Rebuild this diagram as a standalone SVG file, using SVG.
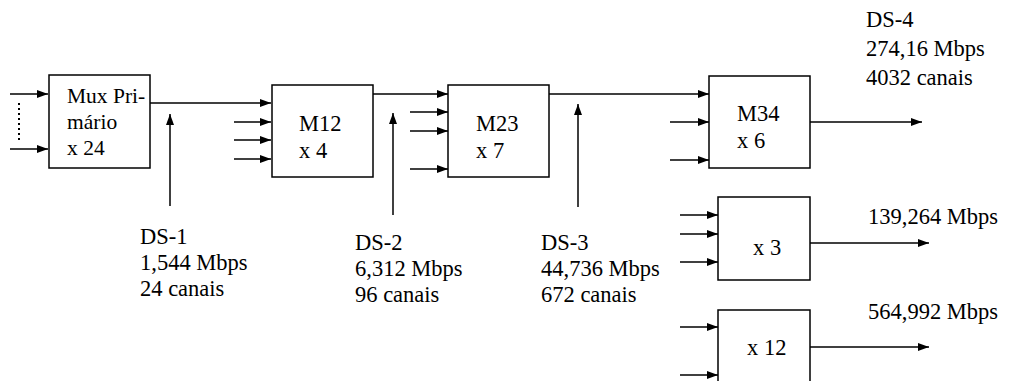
<svg xmlns="http://www.w3.org/2000/svg" width="1016" height="381" viewBox="0 0 1016 381">
<style>
.box{fill:#fff;stroke:#000;stroke-width:1.5}
.ln{stroke:#000;stroke-width:1.5;fill:none}
.dot{stroke:#000;stroke-width:2;stroke-dasharray:2 3;fill:none}
text{font-family:"Liberation Serif","Times New Roman",serif;font-size:22.5px;fill:#000}
</style>
<defs>
<marker id="ah" markerUnits="userSpaceOnUse" markerWidth="12" markerHeight="10" refX="11" refY="4" orient="auto">
<path d="M0,0 L11,4 L0,8 Z" fill="#000"/>
</marker>
</defs>
<rect width="1016" height="381" fill="#fff"/>
<g id="connectors">
<line class="ln" x1="10" y1="94" x2="48" y2="94" marker-end="url(#ah)"/>
<line class="ln" x1="10" y1="149" x2="48" y2="149" marker-end="url(#ah)"/>
<line class="dot" x1="19" y1="103" x2="19" y2="142"/>
<line class="ln" x1="150" y1="103" x2="271" y2="103" marker-end="url(#ah)"/>
<line class="ln" x1="234" y1="122" x2="271" y2="122" marker-end="url(#ah)"/>
<line class="ln" x1="234" y1="140" x2="271" y2="140" marker-end="url(#ah)"/>
<line class="ln" x1="234" y1="159" x2="271" y2="159" marker-end="url(#ah)"/>
<line class="ln" x1="170" y1="206" x2="170" y2="114" marker-end="url(#ah)"/>
<line class="ln" x1="373" y1="94" x2="448" y2="94" marker-end="url(#ah)"/>
<line class="ln" x1="410" y1="112" x2="448" y2="112" marker-end="url(#ah)"/>
<line class="ln" x1="410" y1="131" x2="448" y2="131" marker-end="url(#ah)"/>
<line class="ln" x1="410" y1="169" x2="448" y2="169" marker-end="url(#ah)"/>
<line class="ln" x1="393" y1="215" x2="393" y2="113" marker-end="url(#ah)"/>
<line class="ln" x1="549" y1="94" x2="709" y2="94" marker-end="url(#ah)"/>
<line class="ln" x1="670" y1="122" x2="709" y2="122" marker-end="url(#ah)"/>
<line class="ln" x1="670" y1="160" x2="709" y2="160" marker-end="url(#ah)"/>
<line class="ln" x1="578" y1="207" x2="578" y2="104" marker-end="url(#ah)"/>
<line class="ln" x1="810" y1="122" x2="922" y2="122" marker-end="url(#ah)"/>
<line class="ln" x1="680" y1="215" x2="718" y2="215" marker-end="url(#ah)"/>
<line class="ln" x1="680" y1="234" x2="718" y2="234" marker-end="url(#ah)"/>
<line class="ln" x1="680" y1="262" x2="718" y2="262" marker-end="url(#ah)"/>
<line class="ln" x1="810" y1="243" x2="929" y2="243" marker-end="url(#ah)"/>
<line class="ln" x1="680" y1="327" x2="718" y2="327" marker-end="url(#ah)"/>
<line class="ln" x1="680" y1="375" x2="718" y2="375" marker-end="url(#ah)"/>
<line class="ln" x1="810" y1="347" x2="929" y2="347" marker-end="url(#ah)"/>
</g>
<g id="mux">
<rect class="box" x="49" y="75" width="101" height="93"/>
<text x="67" y="103" style="font-size:21.5px">Mux Pri-</text>
<text x="67" y="129" style="font-size:21.5px">mário</text>
<text x="67" y="155" style="font-size:21.5px">x 24</text>
</g>
<g id="m12">
<rect class="box" x="272" y="85" width="101" height="92"/>
<text x="299" y="131">M12</text>
<text x="299" y="158">x 4</text>
</g>
<g id="m23">
<rect class="box" x="448" y="85" width="101" height="92"/>
<text x="476" y="131">M23</text>
<text x="476" y="158">x 7</text>
</g>
<g id="m34">
<rect class="box" x="709" y="76" width="101" height="92"/>
<text x="737" y="121">M34</text>
<text x="737" y="148">x 6</text>
</g>
<g id="x3">
<rect class="box" x="718" y="197" width="92" height="83"/>
<text x="753" y="255">x 3</text>
</g>
<g id="x12">
<rect class="box" x="718" y="310" width="92" height="80"/>
<text x="747" y="355">x 12</text>
</g>
<g id="ds1">
<text x="140" y="244">DS-1</text>
<text x="140" y="270">1,544 Mbps</text>
<text x="140" y="296">24 canais</text>
</g>
<g id="ds2">
<text x="355" y="250">DS-2</text>
<text x="355" y="276">6,312 Mbps</text>
<text x="355" y="302">96 canais</text>
</g>
<g id="ds3">
<text x="541" y="250">DS-3</text>
<text x="541" y="276">44,736 Mbps</text>
<text x="541" y="302">672 canais</text>
</g>
<g id="ds4">
<text x="866" y="27">DS-4</text>
<text x="866" y="56">274,16 Mbps</text>
<text x="866" y="85">4032 canais</text>
</g>
<g id="rates">
<text x="868" y="224">139,264 Mbps</text>
<text x="868" y="319">564,992 Mbps</text>
</g>
</svg>
